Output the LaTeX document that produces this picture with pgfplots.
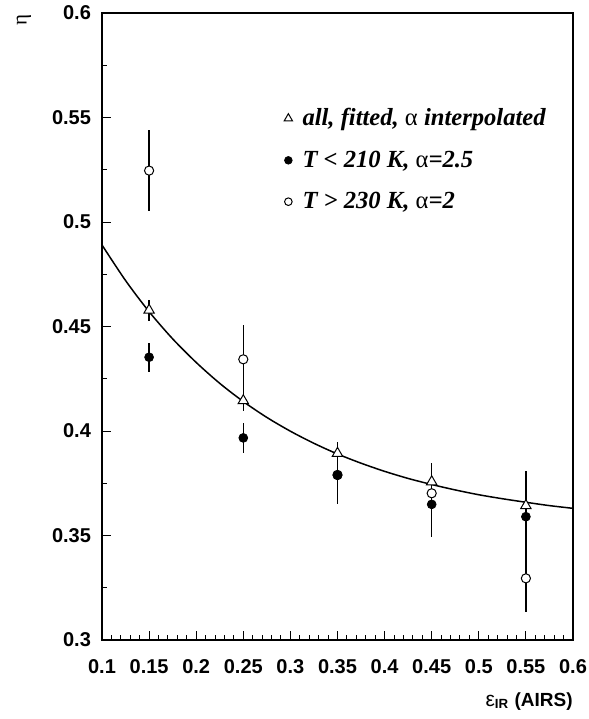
\documentclass[border=0pt]{standalone}
\usepackage{fontspec}
\setmainfont{Liberation Serif}
\setsansfont{Liberation Sans}
\usepackage{pgfplots}
\pgfplotsset{compat=1.18}
\usepackage{pgfplotstable}

% eta vs eps_IR, three selections
\pgfplotstableread{
x y ey
0.15 0.4578 0.0050
0.25 0.4145 0.0050
0.35 0.3893 0.0055
0.45 0.3757 0.0060
0.55 0.3643 0.0060
}\fitted
\pgfplotstableread{
x y ey
0.15 0.4353 0.0070
0.25 0.3967 0.0072
0.35 0.3788 0.0130
0.45 0.3649 0.0155
0.55 0.3590 0.0220
}\cold
\pgfplotstableread{
x y ey
0.15 0.5246 0.0195
0.25 0.4343 0.0165
0.35 0.3790 0.0140
0.45 0.3702 0.0145
0.55 0.3295 0.0160
}\warm
\pgfplotstableread{
x y
0.100 0.4890
0.125 0.4720
0.150 0.4571
0.175 0.4441
0.200 0.4328
0.225 0.4228
0.250 0.4141
0.275 0.4065
0.300 0.3999
0.325 0.3941
0.350 0.3890
0.375 0.3846
0.400 0.3807
0.425 0.3773
0.450 0.3744
0.475 0.3718
0.500 0.3695
0.525 0.3676
0.550 0.3659
0.575 0.3643
0.600 0.3630
}\fitcurve

\newcommand{\lbl}{\sffamily\bfseries\fontsize{10}{12}\selectfont}

\begin{document}
\begin{tikzpicture}
\begin{axis}[
    scale only axis, clip=false,
    width=235.5pt, height=313.5pt,
    xmin=0.1, xmax=0.6, ymin=0.3, ymax=0.6,
    xtick={0.1,0.15,0.2,0.25,0.3,0.35,0.4,0.45,0.5,0.55,0.6},
    ytick={0.3,0.35,0.4,0.45,0.5,0.55,0.6},
    minor x tick num=4, minor y tick num=1,
    tick align=inside, xtick pos=bottom, ytick pos=left,
    major tick length=4.5pt, minor tick length=2.3pt,
    tick style={black, line width=0.5pt},
    axis line style={line width=0.6pt},
    tick label style={font=\lbl},
    /pgf/number format/assume math mode=true,
    xticklabel style={yshift=-6pt},
    yticklabel style={xshift=-2pt},
    legend style={draw=none, fill=none, at={(rel axis cs:0.386,0.855)}, anchor=north west,
        font=\bfseries\itshape\fontsize{12.3}{14}\selectfont, row sep=7pt, inner sep=0pt,
        /tikz/every odd column/.append style={column sep=3pt}},
    legend cell align=left,
]
\addplot[line width=0.75pt, smooth, forget plot] table[x=x, y=y] {\fitcurve};
\addplot[forget plot, only marks, mark=triangle*, mark size=3pt, mark options={fill=white, line width=0.5pt},
    error bars/.cd, y dir=both, y explicit, error mark=none, error bar style={line width=0.75pt}]
    table[x=x, y=y, y error=ey] {\fitted};
\addplot[forget plot, only marks, mark=*, mark size=2.3pt, mark options={fill=white, line width=0.5pt},
    error bars/.cd, y dir=both, y explicit, error mark=none, error bar style={line width=0.75pt}]
    table[x=x, y=y, y error=ey] {\warm};
\addplot[forget plot, only marks, mark=*, mark size=2.2pt, mark options={fill=black},
    error bars/.cd, y dir=both, y explicit, error mark=none, error bar style={line width=0.75pt}]
    table[x=x, y=y, y error=ey] {\cold};
\addlegendimage{only marks, mark=triangle*, mark size=2.4pt, mark options={fill=white, line width=0.5pt}}
\addlegendentry{all, fitted, {\upshape\mdseries α} interpolated}
\addlegendimage{only marks, mark=*, mark size=1.9pt, mark options={fill=black}}
\addlegendentry{T < 210 K, {\upshape\mdseries α}=2.5}
\addlegendimage{only marks, mark=*, mark size=1.9pt, mark options={fill=white, line width=0.5pt}}
\addlegendentry{T > 230 K, {\upshape\mdseries α}=2}
\draw[line width=1pt] (rel axis cs:0,1) -- (rel axis cs:0,0) -- (rel axis cs:1,0);
\node[font=\fontsize{10.5}{12}\selectfont, rotate=90, xshift=-3.5pt, yshift=39pt, inner sep=0pt]
    at (rel axis cs:0,1) {η};
\node[anchor=base east, yshift=-33pt, inner sep=0pt, font=\sffamily\bfseries\fontsize{9.5}{11}\selectfont]
    at (rel axis cs:1,0) {{\mdseries\fontsize{10.5}{11}\selectfont ε}\textsubscript{IR} (AIRS)};
\end{axis}
\pgfresetboundingbox
\path[use as bounding box] ([shift={(-51pt,-39.5pt)}]current axis.south west)
    rectangle ([shift={(8pt,6.5pt)}]current axis.north east);
\end{tikzpicture}
\end{document}
